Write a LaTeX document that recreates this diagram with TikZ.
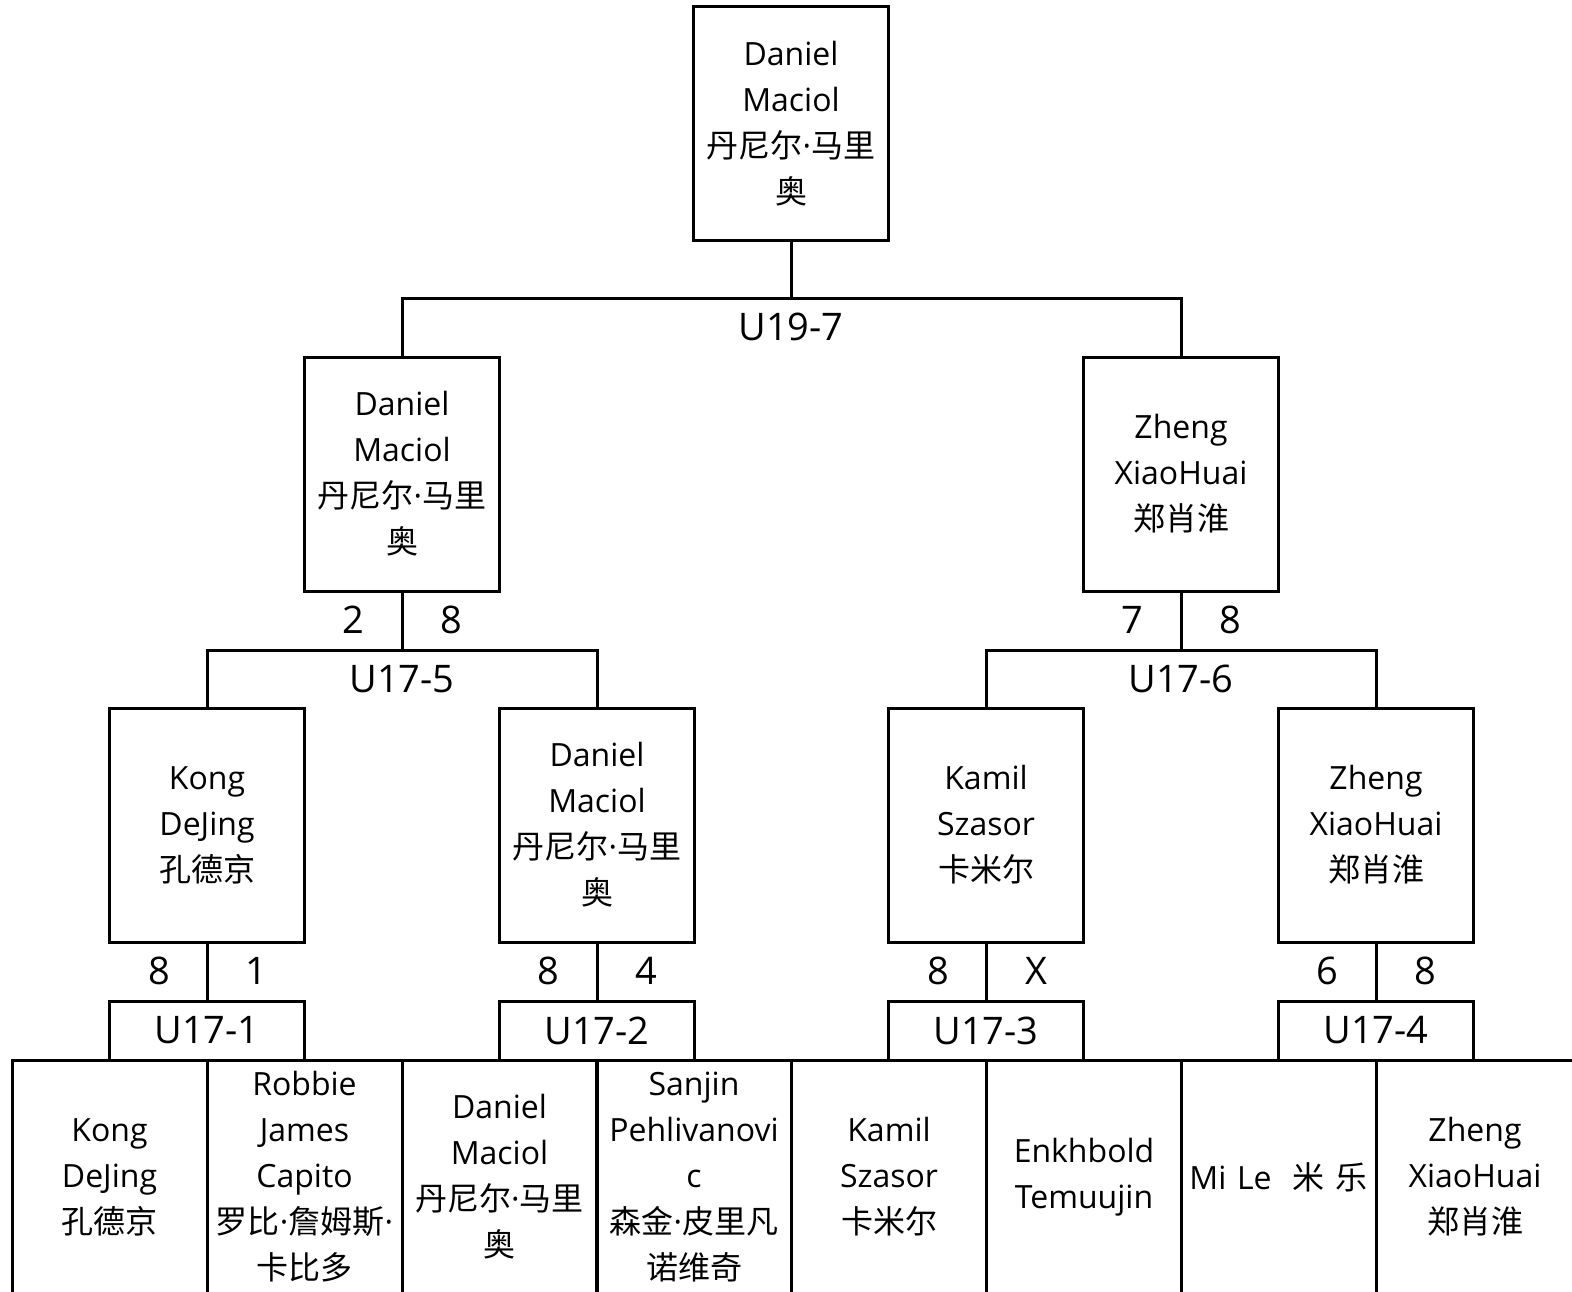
\documentclass[tikz,border=0pt]{standalone}
\usepackage{fontspec}
\setmainfont{Open Sans}
\newfontfamily\cjk{Noto Sans CJK SC}
\begin{document}
\begin{tikzpicture}[x=1pt,y=-1pt,
  every node/.style={font=\fontsize{32}{46}\selectfont, inner sep=0pt},
  pbox/.style={draw, line width=3pt, minimum width=195pt, minimum height=234pt, text width=190pt, align=center},
  mbox/.style={draw, line width=3pt, minimum width=195pt, minimum height=59pt, font=\fontsize{38}{46}\selectfont},
  cell/.style={draw, line width=3pt, minimum width=195pt, minimum height=234pt, text width=190pt, align=center},
  lab/.style={font=\fontsize{38}{46}\selectfont},
  wire/.style={line width=3pt}]
\useasboundingbox (0,0) rectangle (1572,1292);
\clip (0,0) rectangle (1572,1292);
% bottom cells
\node[cell] (c1) at (109.5,1177) {Kong\\DeJing\\{\cjk 孔德京}};
\node[cell] (c2) at (304.5,1177) {Robbie\\James\\Capito\\{\cjk 罗比}·{\cjk 詹姆斯}·\\{\cjk 卡比多}};
\node[cell] (c3) at (499.5,1177) {Daniel\\Maciol\\{\cjk 丹尼尔}·{\cjk 马里}\\{\cjk 奥}};
\node[cell] (c4) at (694,1177) {Sanjin\\Pehlivanovi\\c\\{\cjk 森金}·{\cjk 皮里凡}\\{\cjk 诺维奇}};
\node[cell] (c5) at (889,1177) {Kamil\\Szasor\\{\cjk 卡米尔}};
\node[cell] (c6) at (1084,1177) {Enkhbold\\Temuujin};
\node[cell] (c7) at (1278.5,1177) {Mi Le\ \ {\cjk 米\ 乐}};
\node[cell, minimum width=198pt] (c8) at (1475,1177) {Zheng\\XiaoHuai\\{\cjk 郑肖淮}};
% U17 match boxes
\node[mbox] (m1) at (207,1030.5) {U17-1};
\node[mbox] (m2) at (597,1030.5) {U17-2};
\node[mbox] (m3) at (986,1030.5) {U17-3};
\node[mbox] (m4) at (1376,1030.5) {U17-4};
% level 1 winners
\node[pbox] (q1) at (207,825) {Kong\\DeJing\\{\cjk 孔德京}};
\node[pbox] (q2) at (597,825) {Daniel\\Maciol\\{\cjk 丹尼尔}·{\cjk 马里}\\{\cjk 奥}};
\node[pbox] (q3) at (986,825) {Kamil\\Szasor\\{\cjk 卡米尔}};
\node[pbox] (q4) at (1376,825) {Zheng\\XiaoHuai\\{\cjk 郑肖淮}};
% level 2 winners
\node[pbox] (s1) at (402,474) {Daniel\\Maciol\\{\cjk 丹尼尔}·{\cjk 马里}\\{\cjk 奥}};
\node[pbox] (s2) at (1181,474) {Zheng\\XiaoHuai\\{\cjk 郑肖淮}};
% champion
\node[pbox] (r) at (791,123.5) {Daniel\\Maciol\\{\cjk 丹尼尔}·{\cjk 马里}\\{\cjk 奥}};
% connectors
\draw[wire] (q1.south) -- (m1.north);
\draw[wire] (q2.south) -- (m2.north);
\draw[wire] (q3.south) -- (m3.north);
\draw[wire] (q4.south) -- (m4.north);
\coordinate (j5) at (402,650);
\coordinate (j6) at (1181,650);
\coordinate (j7) at (791,298);
\draw[wire] (s1.south) -- (j5);
\draw[wire] (s2.south) -- (j6);
\draw[wire] (r.south) -- (j7);
\draw[wire] (q1.north) -- (q1.north |- j5) -- (q2.north |- j5) -- (q2.north);
\draw[wire] (q3.north) -- (q3.north |- j6) -- (q4.north |- j6) -- (q4.north);
\draw[wire] (s1.north) -- (s1.north |- j7) -- (s2.north |- j7) -- (s2.north);
% match labels
\node[lab] (l5) at (402,679) {U17-5};
\node[lab] (l6) at (1181,679) {U17-6};
\node[lab] (l7) at (791,327) {U19-7};
% scores
\node[lab] (a1) at (159,971) {8};
\node[lab] (b1) at (256,971) {1};
\node[lab] (a2) at (548,971) {8};
\node[lab] (b2) at (646,971) {4};
\node[lab] (a3) at (938,971) {8};
\node[lab] (b3) at (1036,971) {X};
\node[lab] (a4) at (1327,971) {6};
\node[lab] (b4) at (1425,971) {8};
\node[lab] (a5) at (353,620) {2};
\node[lab] (b5) at (451,620) {8};
\node[lab] (a6) at (1132,620) {7};
\node[lab] (b6) at (1230,620) {8};
\end{tikzpicture}
\end{document}
